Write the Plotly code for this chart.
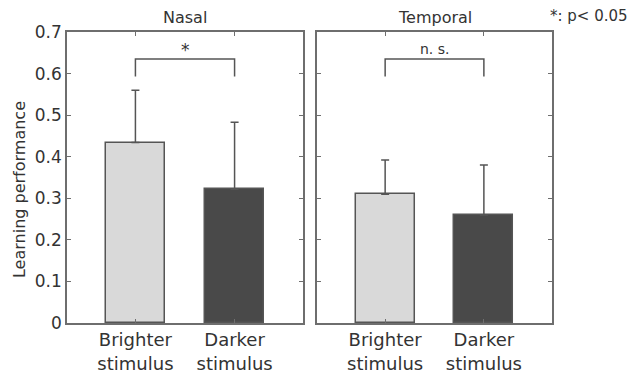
import plotly.graph_objects as go

categories = ["Brighter<br>stimulus", "Darker<br>stimulus"]
panels = ["Nasal", "Temporal"]
nasal_mean = [0.434, 0.322]
nasal_err = [0.126, 0.161]
temporal_mean = [0.310, 0.260]
temporal_err = [0.082, 0.120]
sig_labels = ["*", "n. s."]
bracket_top = 0.635
bracket_bottom = 0.593
yticks = [0, 0.1, 0.2, 0.3, 0.4, 0.5, 0.6, 0.7]
ytick_labels = ["0", "0.1", "0.2", "0.3", "0.4", "0.5", "0.6", "0.7"]

bar_colors = ["#d9d9d9", "#494949"]
edge = "#555555"
axis_col = "#6e6e6e"
txt = "#333333"
font_family = "DejaVu Sans, sans-serif"

fig = go.Figure()
data = [(nasal_mean, nasal_err), (temporal_mean, temporal_err)]
xs = [0, 1]
for i, (m, e) in enumerate(data):
    xa = "x" if i == 0 else "x2"
    ya = "y" if i == 0 else "y2"
    fig.add_trace(go.Bar(
        x=xs, y=m, width=0.6,
        marker=dict(color=bar_colors, line=dict(color=edge, width=1.5)),
        error_y=dict(type="data", symmetric=False, array=e, arrayminus=[0, 0],
                     color=edge, thickness=1.5, width=4),
        xaxis=xa, yaxis=ya, showlegend=False, hoverinfo="skip"))
    fig.add_trace(go.Scatter(
        x=[0, 0, 1, 1], y=[bracket_bottom, bracket_top, bracket_top, bracket_bottom],
        mode="lines", line=dict(color="#555555", width=1.5),
        xaxis=xa, yaxis=ya, showlegend=False, hoverinfo="skip"))
    fig.add_annotation(x=0.5, y=bracket_top, xref=xa, yref=ya, text=sig_labels[i],
                       showarrow=False, yanchor="bottom", yshift=-3 if i == 0 else 0,
                       font=dict(size=17 if i == 0 else 14, color=txt, family=font_family))
    fig.add_annotation(x=0.5, y=1, xref=("x domain" if i == 0 else "x2 domain"),
                       yref="paper", text=panels[i], showarrow=False, yanchor="bottom",
                       yshift=3, font=dict(size=16, color=txt, family=font_family))

fig.add_annotation(x=1.0, y=1, xref="paper", yref="paper", xanchor="left", yanchor="bottom",
                   xshift=-4, yshift=5, text="*: p< 0.05", showarrow=False,
                   font=dict(size=15, color=txt, family=font_family))

# y-axis title as a rotated annotation (placed slightly below the plot centre, as in the reference)
fig.add_annotation(x=0, y=0.457, xref="paper", yref="paper", xanchor="center", yanchor="middle",
                   xshift=-48, textangle=-90, text="Learning performance", showarrow=False,
                   font=dict(size=16, color=txt, family=font_family))

common_x = dict(range=[-0.69, 1.69], tickmode="array", tickvals=xs, ticktext=categories,
                showline=True, linecolor=axis_col, linewidth=1.5, mirror="ticks",
                ticks="inside", ticklen=4, tickcolor=axis_col, showgrid=False, zeroline=False,
                automargin=False,
                tickfont=dict(size=18, color=txt, family=font_family), fixedrange=True)
common_y = dict(range=[0, 0.7], tickmode="array", tickvals=yticks,
                showline=True, linecolor=axis_col, linewidth=1.5, mirror="ticks",
                ticks="inside", ticklen=4, tickcolor=axis_col, showgrid=False, zeroline=False,
                automargin=False,
                tickfont=dict(size=17, color=txt, family=font_family))

# page body has an 8px default margin, so the figure is sized/offset to fill the window
fig.update_layout(
    width=627, height=366,
    margin=dict(l=59, r=83, t=24, b=51),
    paper_bgcolor="white", plot_bgcolor="white",
    xaxis=dict(domain=[0, 0.4866], **common_x),
    xaxis2=dict(domain=[0.5155, 1], anchor="y2", **common_x),
    yaxis=dict(anchor="x", ticktext=ytick_labels, **common_y),
    yaxis2=dict(anchor="x2", showticklabels=False, **common_y),
    bargap=0,
)

fig.write_html("out.html")
